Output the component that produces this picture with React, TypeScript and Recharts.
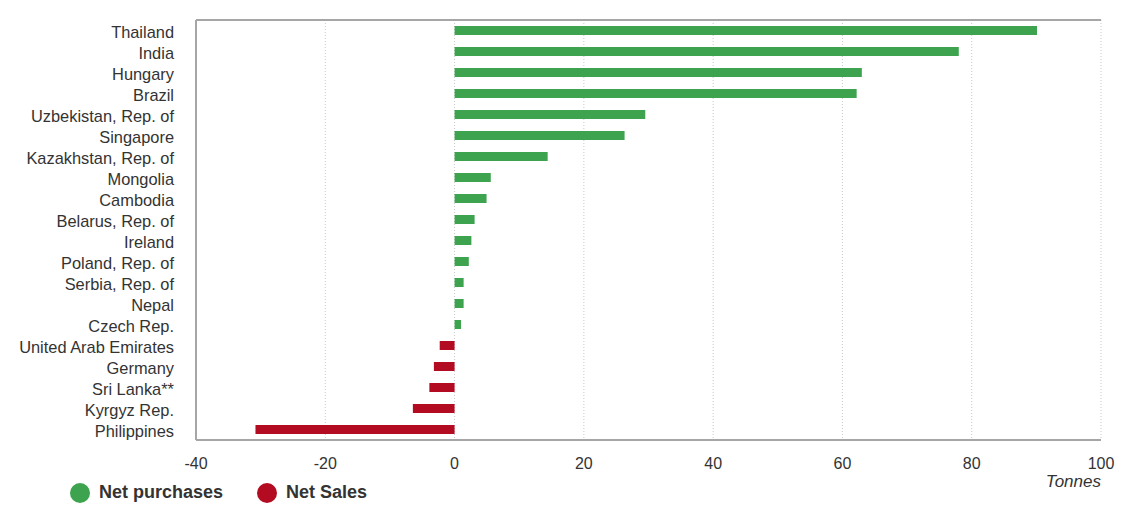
import React from 'react';
import {
  BarChart,
  Bar,
  XAxis,
  YAxis,
  CartesianGrid,
} from 'recharts';

// Countries, top to bottom
const countries = [
  'Thailand',
  'India',
  'Hungary',
  'Brazil',
  'Uzbekistan, Rep. of',
  'Singapore',
  'Kazakhstan, Rep. of',
  'Mongolia',
  'Cambodia',
  'Belarus, Rep. of',
  'Ireland',
  'Poland, Rep. of',
  'Serbia, Rep. of',
  'Nepal',
  'Czech Rep.',
  'United Arab Emirates',
  'Germany',
  'Sri Lanka**',
  'Kyrgyz Rep.',
  'Philippines',
];

// Net change in tonnes
const netTonnes = [
  90.1, 78.0, 63.0, 62.2, 29.5, 26.3, 14.4, 5.6, 4.95, 3.1,
  2.6, 2.2, 1.4, 1.4, 1.0, -2.3, -3.2, -3.9, -6.45, -30.8,
];

const xTicks = [-40, -20, 0, 20, 40, 60, 80, 100];

const seriesNames = ['Net purchases', 'Net Sales'];
const seriesColors = ['#3DA34E', '#B30C22'];

const FONT = '"Liberation Sans", Arial, sans-serif';
const TEXT = '#333333';

export default function App() {
  // split into purchases / sales so each gets its own colour
  const chartData = React.useMemo(
    () =>
      countries.map((name, i) => ({
        name,
        purchases: netTonnes[i] > 0 ? netTonnes[i] : null,
        sales: netTonnes[i] < 0 ? netTonnes[i] : null,
      })),
    []
  );

  return (
    <div
      style={{
        position: 'absolute',
        left: 0,
        top: 0,
        width: 1133,
        height: 526,
        background: '#fff',
        fontFamily: FONT,
      }}
    >
      <BarChart
        width={1133}
        height={526}
        data={chartData}
        layout="vertical"
        barCategoryGap={6}
        margin={{ top: 19, right: 32, bottom: 0, left: 0 }}
      >
        <CartesianGrid
          horizontal={false}
          stroke="#c8c8c8"
          strokeDasharray="1 2"
        />
        <XAxis
          type="number"
          domain={[-40, 100]}
          ticks={xTicks}
          allowDataOverflow
          height={86}
          tickSize={0}
          tickMargin={18}
          axisLine={{ stroke: '#a6a6a6', strokeWidth: 2 }}
          tick={{ fill: TEXT, fontSize: 16, fontFamily: FONT }}
        />
        <XAxis
          xAxisId="top"
          orientation="top"
          type="number"
          domain={[-40, 100]}
          height={1}
          tick={false}
          tickSize={0}
          axisLine={{ stroke: '#a6a6a6', strokeWidth: 2 }}
        />
        <YAxis
          type="category"
          dataKey="name"
          width={196}
          tickSize={0}
          tickMargin={22}
          interval={0}
          axisLine={{ stroke: '#a6a6a6', strokeWidth: 2 }}
          tick={{ fill: TEXT, fontSize: 16.4, fontFamily: FONT, dy: 2 }}
        />
        <Bar
          dataKey="purchases"
          name={seriesNames[0]}
          stackId="a"
          fill={seriesColors[0]}
          barSize={9}
          isAnimationActive={false}
        />
        <Bar
          dataKey="sales"
          name={seriesNames[1]}
          stackId="a"
          fill={seriesColors[1]}
          barSize={9}
          isAnimationActive={false}
        />
      </BarChart>

      <div
        style={{
          position: 'absolute',
          right: 32,
          top: 472,
          fontSize: 17,
          fontStyle: 'italic',
          color: TEXT,
        }}
      >
        Tonnes
      </div>

      <div
        style={{
          position: 'absolute',
          left: 70,
          top: 482,
          display: 'flex',
          alignItems: 'center',
          fontSize: 18,
          fontWeight: 'bold',
          color: TEXT,
        }}
      >
        {seriesNames.map((s, i) => (
          <div
            key={s}
            style={{ display: 'flex', alignItems: 'center', marginRight: 34 }}
          >
            <span
              style={{
                width: 20,
                height: 20,
                borderRadius: '50%',
                background: seriesColors[i],
                display: 'inline-block',
                marginRight: 9,
              }}
            />
            <span>{s}</span>
          </div>
        ))}
      </div>
    </div>
  );
}
